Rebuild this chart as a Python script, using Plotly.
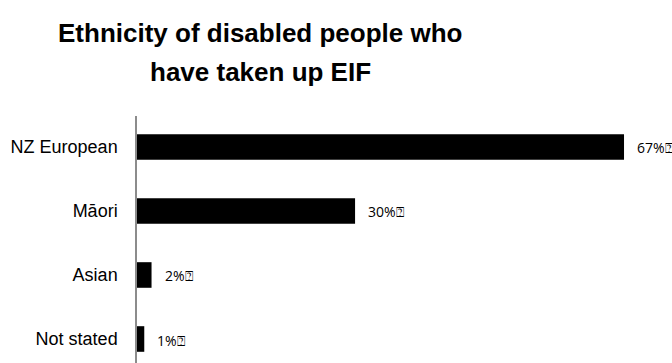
import plotly.graph_objects as go

categories = ["NZ European", "Māori", "Asian", "Not stated"]
values = [67, 30, 2, 1]
value_labels = ["67%⍰", "30%⍰", "2%⍰", "1%⍰"]
title_lines = ["Ethnicity of disabled people who", "have taken up EIF"]

fig = go.Figure()
fig.add_trace(go.Bar(
    x=values, y=categories, orientation="h",
    marker=dict(color="#000000", line=dict(width=0)),
    width=0.4, hoverinfo="skip",
))

for cat, val, lab in zip(categories, values, value_labels):
    fig.add_annotation(
        x=val, y=cat, text=lab, showarrow=False,
        xanchor="left", yanchor="middle", xshift=11, yshift=-1,
        font=dict(family="Open Sans, Liberation Sans, sans-serif", size=14, color="#000000"),
    )

for i, line in enumerate(title_lines):
    fig.add_annotation(
        xref="paper", yref="paper", x=(260 - 137) / (672 - 137),
        y=1, yshift=[116 - 33, 116 - 72][i] * 1.0,
        text=f"<b>{line}</b>", showarrow=False,
        xanchor="center", yanchor="middle",
        font=dict(family="Liberation Sans, Arial, sans-serif", size=26, color="#000000"),
    )

fig.update_layout(
    width=672, height=363,
    margin=dict(l=137, r=0, t=116, b=0),
    paper_bgcolor="white", plot_bgcolor="white",
    showlegend=False,
    font=dict(family="Liberation Sans, Arial, sans-serif", size=18, color="#000000"),
    bargap=0.6,
)
fig.update_xaxes(range=[0, 73.6], visible=False, showgrid=False, zeroline=False)
fig.update_yaxes(
    type="category", categoryorder="array", categoryarray=categories,
    range=[3.375, -0.484], showgrid=False, zeroline=False,
    showline=True, linecolor="#8c8c8c", linewidth=1.5,
    ticks="", ticklabelstandoff=14,
    tickfont=dict(family="Liberation Sans, Arial, sans-serif", size=18, color="#000000"),
)

fig.write_html("out.html")
